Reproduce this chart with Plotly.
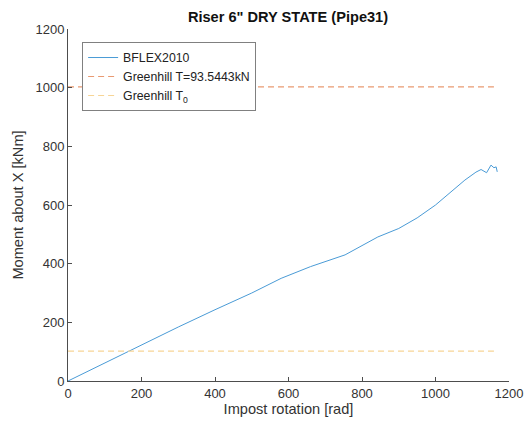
import plotly.graph_objects as go

# BFLEX2010 curve
rotation = [0, 100, 200, 300, 400, 500, 580, 660, 754, 843, 900, 950, 1000, 1040, 1080, 1110, 1124, 1139, 1151, 1159, 1165, 1168]
moment = [0, 62, 124, 184, 243, 300, 350, 390, 430, 491, 520, 556, 600, 641, 685, 712, 721, 710, 736, 727, 730, 713]

# Greenhill reference levels
greenhill_x = [0, 1159]
greenhill_T = 1003
greenhill_T0 = 102

x_ticks = [0, 200, 400, 600, 800, 1000, 1200]
y_ticks = [0, 200, 400, 600, 800, 1000, 1200]

FONT = "Liberation Sans, Arial"

fig = go.Figure()
fig.add_trace(go.Scatter(x=rotation, y=moment, mode="lines", name="BFLEX2010",
                         line=dict(color="#4A9BD6", width=1)))
fig.add_trace(go.Scatter(x=greenhill_x, y=[greenhill_T] * 2, mode="lines",
                         name="Greenhill T=93.5443kN",
                         line=dict(color="#E99A72", width=1.2, dash="6px,4px")))
fig.add_trace(go.Scatter(x=greenhill_x, y=[greenhill_T0] * 2, mode="lines",
                         name="Greenhill T<sub>0</sub>",
                         line=dict(color="#F7D596", width=1.2, dash="6px,4px")))

axis_common = dict(showgrid=False, zeroline=False, showline=True, linecolor="#4d4d4d",
                   linewidth=1, ticks="inside", ticklen=4, tickcolor="#4d4d4d",
                   tickfont=dict(family=FONT, size=13, color="#333333"),
                   mirror=False, automargin=False)

fig.update_layout(
    width=529, height=425,
    margin=dict(l=68, r=20, t=29, b=44),
    paper_bgcolor="white", plot_bgcolor="white",
    title=dict(text="<b>Riser 6\" DRY STATE (Pipe31)</b>", x=288 / 529, xanchor="center",
               y=1 - 17 / 425, yanchor="middle",
               font=dict(family=FONT, size=14.6, color="#111111")),
    xaxis=dict(range=[0, 1200], tickvals=x_ticks,
               title=dict(text="Impost rotation [rad]", standoff=2,
                          font=dict(family=FONT, size=14.6, color="#333333")),
               **axis_common),
    yaxis=dict(range=[0, 1200], tickvals=y_ticks,
               title=dict(text="Moment about X [kNm]", standoff=8,
                          font=dict(family=FONT, size=14.6, color="#333333")),
               **axis_common),
    legend=dict(x=0.032, y=0.963, xanchor="left", yanchor="top",
                bgcolor="white", bordercolor="#808080", borderwidth=1,
                font=dict(family=FONT, size=12.3, color="#222222"),
                tracegroupgap=0, itemwidth=30),
    showlegend=True,
)

fig.write_html("out.html")
